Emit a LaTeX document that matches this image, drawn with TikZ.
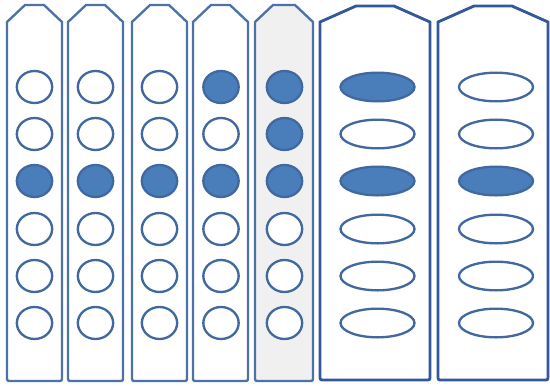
\documentclass[tikz,border=0pt]{standalone}
\usetikzlibrary{shapes.geometric}

\definecolor{slotline}{HTML}{4D72A8}
\definecolor{wideline}{HTML}{34599A}
\definecolor{holeline}{HTML}{41689F}
\definecolor{holefill}{HTML}{4A7EBB}
\definecolor{slotgray}{HTML}{F0F0F0}

\begin{document}
\begin{tikzpicture}[
  x=0.3mm, y=-0.3mm,
  slot/.style={draw=slotline, line width=0.7mm, fill=white},
  slotg/.style={slot, fill=slotgray},
  slotw/.style={slot, draw=wideline, line width=0.85mm},
  hole/.style={ellipse, draw=holeline, line width=0.7mm, fill=white,
               minimum width=10.6mm, minimum height=9.6mm, inner sep=0pt},
  full/.style={hole, fill=holefill},
  oval/.style={hole, minimum width=22.2mm, minimum height=8.6mm},
  ovalf/.style={oval, fill=holefill}
]
\useasboundingbox (0,0) rectangle (550,385);

% narrow slots
\foreach \n/\l/\r/\s in {1/7/62/slot, 2/68/123/slot, 3/132/187/slot,
                         4/193/248/slot, 5/255/313/slotg}
  \draw[\s] ({\l+18},5) -- ({\r-18},5) -- (\r,22)
    [rounded corners=0.6mm] -- (\r,381) -- (\l,381) [sharp corners] -- (\l,22) -- cycle;

% wide slots
\foreach \n/\l/\r in {6/320/430, 7/438/548}
  \draw[slotw] ({\l+36},6) -- ({\r-36},6) -- (\r,22)
    [rounded corners=0.6mm] -- (\r,380) -- (\l,380) [sharp corners] -- (\l,22) -- cycle;

% holes, top three rows set per slot
\foreach \n/\xc/\a/\b/\c in {1/34.5/hole/hole/full, 2/95.5/hole/hole/full,
                             3/159.5/hole/hole/full, 4/221/full/hole/full,
                             5/284.5/full/full/full} {
  \node[\a] (h\n-1) at (\xc,87) {};
  \node[\b] (h\n-2) at (\xc,134) {};
  \node[\c] (h\n-3) at (\xc,181) {};
  \foreach \r/\y in {4/229, 5/276, 6/323}
    \node[hole] (h\n-\r) at (\xc,\y) {};
}

\foreach \n/\xc/\a/\b/\c in {6/377.5/ovalf/oval/ovalf, 7/496/oval/oval/ovalf} {
  \node[\a] (h\n-1) at (\xc,87) {};
  \node[\b] (h\n-2) at (\xc,134) {};
  \node[\c] (h\n-3) at (\xc,181) {};
  \foreach \r/\y in {4/229, 5/276, 6/323}
    \node[oval] (h\n-\r) at (\xc,\y) {};
}
\end{tikzpicture}
\end{document}
